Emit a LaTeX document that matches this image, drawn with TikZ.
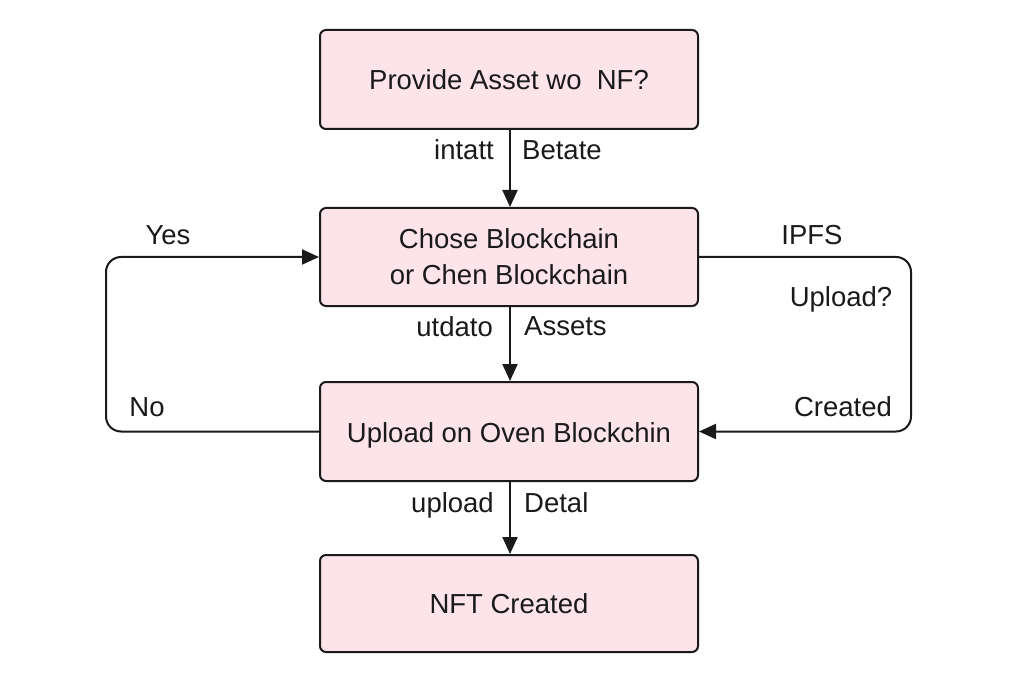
\documentclass[tikz,border=0pt]{standalone}
\usepackage{fontspec}
\setmainfont{Liberation Sans}
\usetikzlibrary{arrows.meta}
\definecolor{boxfill}{RGB}{252,228,234}
\definecolor{ink}{RGB}{26,26,26}
\begin{document}
\begin{tikzpicture}[x=1pt,y=-1pt,
  box/.style={draw=ink,line width=2pt,fill=boxfill,rounded corners=6pt,minimum width=378pt,inner sep=0pt,align=center,font=\fontsize{27.5}{36}\selectfont,text=ink},
  lbl/.style={font=\fontsize{27.5}{30}\selectfont,text=ink,inner sep=0pt},
  conn/.style={draw=ink,line width=2pt,-{Triangle[length=17pt,width=15pt]}},
  loop/.style={conn,rounded corners=15pt}]
\useasboundingbox[fill=white] (0,0) rectangle (1024,692);
\node[box,minimum height=99pt] (b1) at (509,79.5) {Provide Asset wo\ \ NF?};
\node[box,minimum height=98pt] (b2) at (509,257) {Chose Blockchain\\or Chen Blockchain};
\node[box,minimum height=99pt] (b3) at (509,431.5) {\raisebox{-4pt}[\height][\depth]{Upload on Oven Blockchin}};
\node[box,minimum height=97pt] (b4) at (509,603.5) {NFT Created};
\coordinate (L) at (106,0);
\coordinate (R) at (911,0);
\draw[conn] (b1.south -| 510,0) -- (b2.north -| 510,0);
\draw[conn] (b2.south -| 510,0) -- (b3.north -| 510,0);
\draw[conn] (b3.south -| 510,0) -- (b4.north -| 510,0);
\draw[loop] (b3.west) -- (b3.west -| L) -- (b2.west -| L) -- (b2.west);
\draw[loop] (b2.east) -- (b2.east -| R) -- (b3.east -| R) -- (b3.east);
\node[lbl,anchor=base east] (l1) at (494,160) {intatt};
\node[lbl,anchor=base west] (r1) at (522,160) {Betate};
\node[lbl,anchor=base east] (l2) at (493,336) {utdato};
\node[lbl,anchor=base west] (r2) at (524,335) {Assets};
\node[lbl,anchor=base east] (l3) at (494,512) {upload};
\node[lbl,anchor=base west] (r3) at (524,512) {Detal};
\node[lbl,anchor=base] (yes) at (168,245) {Yes};
\node[lbl,anchor=base] (no) at (147,416) {No};
\node[lbl,anchor=base] (ipfs) at (812,245) {IPFS};
\node[lbl,anchor=base] (upq) at (841,306) {Upload?};
\node[lbl,anchor=base] (cr) at (843,416) {Created};
\end{tikzpicture}
\end{document}
